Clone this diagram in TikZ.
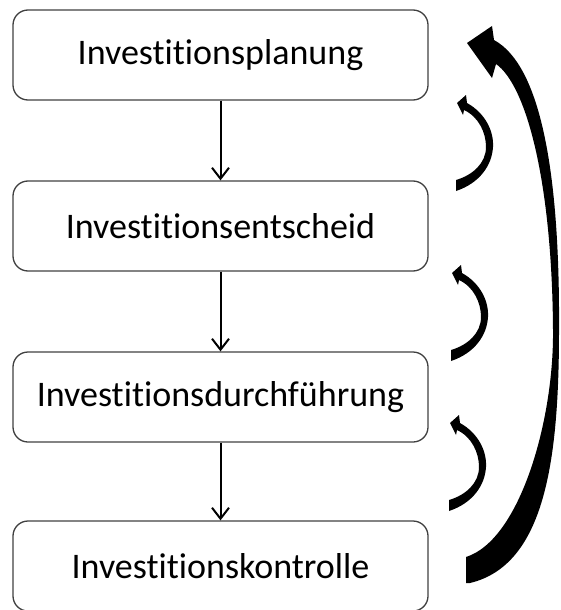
\documentclass[tikz,border=0pt]{standalone}
\usepackage{fontspec}
\setmainfont{Carlito}[Ligatures=NoCommon]
\usetikzlibrary{arrows.meta}

\tikzset{
  phase/.style={draw=black!75, line width=1.3pt, rounded corners=15pt,
    minimum width=415pt, minimum height=90pt, inner sep=0pt,
    font=\fontsize{36}{40}\selectfont},
  flow/.style={-{Straight Barb[length=11pt,width=17pt,line width=2pt]}, line width=2pt},
}

% small curved back arrow, tip at #1
\newcommand{\loopback}[1]{%
  \fill[shift={#1}] (0,0) -- (9,-8) -- (10,0)
    .. controls (28,10) and (37,28) .. (36,44)
    .. controls (35,62) and (23,80) .. (-1,88) -- (-1,77)
    .. controls (16,72) and (29,60) .. (29,44)
    .. controls (29,30) and (22,14) .. (7,7) -- (6,12) -- cycle;}

\begin{document}
\begin{tikzpicture}[x=1pt,y=-1pt]
  \useasboundingbox (0,0) rectangle (560,610);

  \node[phase] (plan) at (220.5,55) {Investitionsplanung};
  \node[phase] (ents) at (220.5,226) {Investitionsentscheid};
  \node[phase] (durch) at (220.5,397) {Investitionsdurchführung};
  \node[phase] (kontr) at (220.5,566) {Investitionskontrolle};

  \draw[flow] (plan) -- (ents);
  \draw[flow] (ents) -- (durch);
  \draw[flow] (durch) -- (kontr);

  % back arrows between the phases
  \loopback{(457,103)}
  \loopback{(452,273)}
  \loopback{(450,423)}

  % big arrow from control back to planning
  \fill (467,43) -- (492,26) -- (494,40)
    .. controls (540,65) and (560,170) .. (559,330)
    .. controls (559,460) and (545,565) .. (470,583) -- (466,583) -- (466,557)
    .. controls (520,540) and (554,420) .. (553,330)
    .. controls (552,180) and (526,85) .. (496,64) -- (492,78) -- cycle;
\end{tikzpicture}
\end{document}
